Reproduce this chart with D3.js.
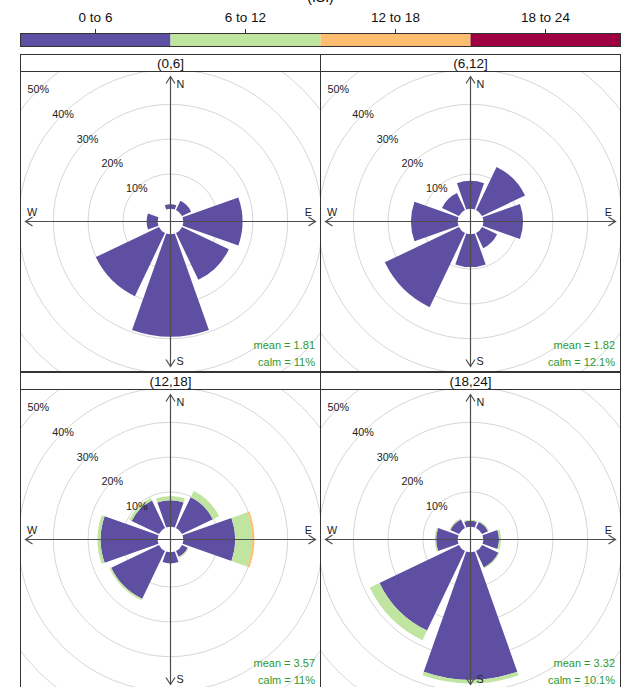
<!DOCTYPE html>
<html>
<head>
<meta charset="utf-8">
<script src="https://cdn.jsdelivr.net/npm/d3@7"></script>
<style>
  html, body { margin: 0; padding: 0; background: #fff; }
  svg { display: block; font-family: "Liberation Sans", Arial, sans-serif; }
</style>
</head>
<body>
<svg id="chart" width="621" height="687"></svg>
<script>
// ---------------- data ----------------
const panelLabels = ["(0,6]", "(6,12]", "(12,18]", "(18,24]"];
const directions = [0, 45, 90, 135, 180, 225, 270, 315];
const speedBins = ["0 to 6", "6 to 12", "12 to 18", "18 to 24"];
const binColours = ["#5E4FA2", "#BFE5A0", "#FDBF6F", "#9E0142"];
const ringTicks = [10, 20, 30, 40, 50];
const keyTitle = "(ISI)";

// frequency (%) by direction for each speed bin, per panel
const p1_bin1 = [1.3, 2.9, 17.0, 14.9, 29.4, 20.1, 3.2, 0];
const p1_bin2 = [0, 0, 0, 0, 0, 0, 0, 0];
const p2_bin1 = [8.0, 13.7, 11.4, 4.8, 9.4, 23.6, 13.4, 5.4];
const p2_bin2 = [0, 0, 0, 0, 0, 0, 0, 0];
const p3_bin1 = [7.6, 9.8, 14.9, 1.8, 3.2, 15.2, 16.4, 8.7];
const p3_bin2 = [1.2, 2.0, 4.9, 0.3, 0, 0.5, 0.9, 0.8];
const p3_bin3 = [0, 0, 0.6, 0, 0, 0, 0, 0];
const p4_bin1 = [1.7, 1.9, 4.5, 5.2, 36.6, 25.3, 6.2, 2.7];
const p4_bin2 = [0.3, 0.3, 0.6, 0.3, 1.1, 3.1, 0.4, 0.3];

const panelMeans = ["1.81", "1.82", "3.57", "3.32"];
const panelCalms = ["11%", "12.1%", "11%", "10.1%"];

const panelSeries = [
  [p1_bin1, p1_bin2],
  [p2_bin1, p2_bin2],
  [p3_bin1, p3_bin2, p3_bin3],
  [p4_bin1, p4_bin2]
];

// ---------------- layout ----------------
const svg = d3.select("#chart");
const W = 621;
const gridX0 = 20.5, panelW = 300, panelH = 300, stripH = 17;
const rowTops = [54.5, 372.5];
const hole = 12.8;
const axisLen = 145;
const halfWedge = 19.5;

const r = d3.scaleLinear().domain([0, 50]).range([hole, hole + 50 * 3.48]);

// ---------------- key ----------------
const keyX = d3.scaleBand().domain(speedBins).range([gridX0, gridX0 + 600]).padding(0);
svg.append("text").attr("x", 320.5).attr("y", 1.5).attr("text-anchor", "middle")
  .attr("font-size", 14).attr("fill", "#000").text(keyTitle);
const key = svg.append("g");
key.selectAll("rect").data(speedBins).join("rect")
  .attr("x", d => keyX(d)).attr("y", 33.5)
  .attr("width", keyX.bandwidth()).attr("height", 13)
  .attr("fill", (d, i) => binColours[i]);
key.append("rect").attr("x", gridX0).attr("y", 33.5).attr("width", 600).attr("height", 13)
  .attr("fill", "none").attr("stroke", "#333").attr("stroke-width", 1);
key.selectAll("line.tick").data(speedBins).join("line").attr("class", "tick")
  .attr("x1", d => keyX(d) + keyX.bandwidth() / 2).attr("x2", d => keyX(d) + keyX.bandwidth() / 2)
  .attr("y1", 29).attr("y2", 33.5).attr("stroke", "#333");
key.selectAll("text").data(speedBins).join("text")
  .attr("x", d => keyX(d) + keyX.bandwidth() / 2).attr("y", 22)
  .attr("text-anchor", "middle").attr("font-size", 13.5).attr("fill", "#111").text(d => d);

// ---------------- panels ----------------
const arc = d3.arc();
const toRad = Math.PI / 180;

panelLabels.forEach((lab, pi) => {
  const col = pi % 2, row = Math.floor(pi / 2);
  const x0 = gridX0 + col * panelW;
  const stripTop = rowTops[row];
  const plotTop = stripTop + stripH;
  const cx = x0 + panelW / 2, cy = plotTop + panelH / 2;

  const clipId = "clip" + pi;
  svg.append("clipPath").attr("id", clipId).append("rect")
    .attr("x", x0).attr("y", plotTop).attr("width", panelW).attr("height", panelH);

  const g = svg.append("g").attr("clip-path", `url(#${clipId})`);
  const c = g.append("g").attr("transform", `translate(${cx},${cy})`);

  // rings
  c.selectAll("circle.ring").data(ringTicks).join("circle").attr("class", "ring")
    .attr("r", d => r(d)).attr("fill", "none").attr("stroke", "#d6d6d6").attr("stroke-width", 1);

  // wedges
  const series = panelSeries[pi];
  directions.forEach((dir, di) => {
    let cum = 0;
    series.forEach((vals, bi) => {
      const v = vals[di];
      if (v > 0) {
        c.append("path")
          .attr("d", arc({
            innerRadius: r(cum), outerRadius: r(cum + v),
            startAngle: (dir - halfWedge) * toRad, endAngle: (dir + halfWedge) * toRad
          }))
          .attr("fill", binColours[bi]);
      }
      cum += v;
    });
  });

  // axes with arrows
  const axCol = "#4d4d4d";
  const axes = c.append("g").attr("stroke", axCol).attr("stroke-width", 1.2).attr("fill", "none");
  axes.append("line").attr("x1", 0).attr("x2", 0).attr("y1", -axisLen).attr("y2", axisLen);
  axes.append("line").attr("x1", -axisLen).attr("x2", axisLen).attr("y1", 0).attr("y2", 0);
  const ah = 7, aw = 4.5;
  axes.append("path").attr("d", `M${-aw},${-axisLen + ah}L0,${-axisLen}L${aw},${-axisLen + ah}`);
  axes.append("path").attr("d", `M${-aw},${axisLen - ah}L0,${axisLen}L${aw},${axisLen - ah}`);
  axes.append("path").attr("d", `M${-axisLen + ah},${-aw}L${-axisLen},0L${-axisLen + ah},${aw}`);
  axes.append("path").attr("d", `M${axisLen - ah},${-aw}L${axisLen},0L${axisLen - ah},${aw}`);

  const lblFs = 10.8;
  c.append("text").attr("x", 6).attr("y", -axisLen + 11).attr("font-size", lblFs).attr("fill", "#222").text("N");
  c.append("text").attr("x", 6).attr("y", axisLen - 1.5).attr("font-size", lblFs).attr("fill", "#222").text("S");
  c.append("text").attr("x", -axisLen + 1.5).attr("y", -6).attr("font-size", lblFs).attr("fill", "#222").text("W");
  c.append("text").attr("x", axisLen - 3.5).attr("y", -6).attr("text-anchor", "end").attr("font-size", lblFs).attr("fill", "#222").text("E");

  // ring labels along NW
  c.selectAll("text.pct").data(ringTicks).join("text").attr("class", "pct")
    .attr("x", d => -r(d) * Math.SQRT1_2).attr("y", d => -r(d) * Math.SQRT1_2)
    .attr("text-anchor", "middle").attr("dominant-baseline", "central")
    .attr("font-size", 10.8).attr("fill", "#222").text(d => d + "%");

  // stats
  g.append("text").attr("x", x0 + panelW - 5.5).attr("y", plotTop + 277.5)
    .attr("text-anchor", "end").attr("font-size", 11).attr("fill", "#2e9a2e")
    .text("mean = " + panelMeans[pi]);
  g.append("text").attr("x", x0 + panelW - 5.5).attr("y", plotTop + 294.5)
    .attr("text-anchor", "end").attr("font-size", 11).attr("fill", "#2e9a2e")
    .text("calm = " + panelCalms[pi]);

  // strip
  svg.append("rect").attr("x", x0).attr("y", stripTop).attr("width", panelW).attr("height", stripH)
    .attr("fill", "#fff").attr("stroke", "#333").attr("stroke-width", 1);
  svg.append("text").attr("x", cx).attr("y", stripTop + 13.5).attr("text-anchor", "middle")
    .attr("font-size", 13.5).attr("fill", "#111").text(lab);

  // panel border
  svg.append("rect").attr("x", x0).attr("y", plotTop).attr("width", panelW).attr("height", panelH)
    .attr("fill", "none").attr("stroke", "#333").attr("stroke-width", 1);
});
</script>
</body>
</html>
